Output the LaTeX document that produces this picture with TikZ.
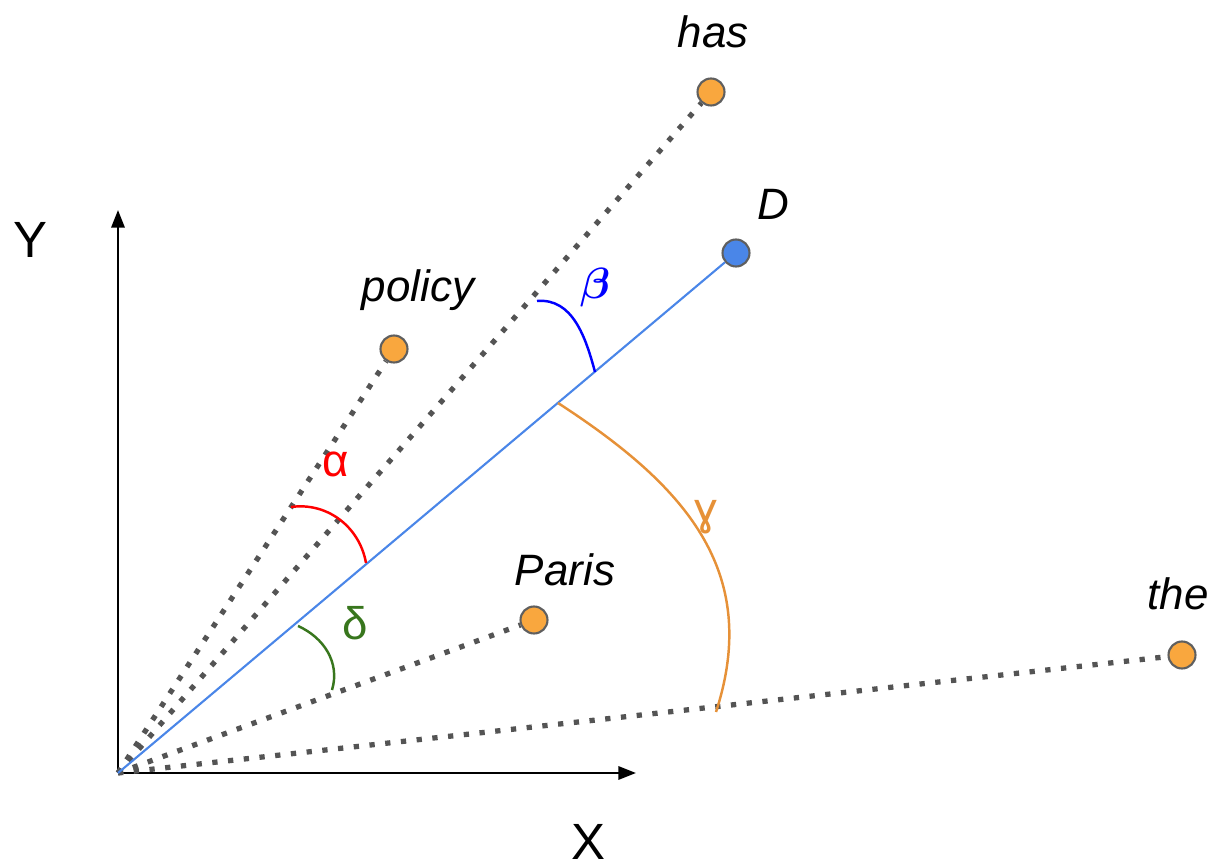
\documentclass[tikz,border=0pt]{standalone}
\usepackage{amsmath, bm}
\usepackage{fontspec}
\setmainfont{Liberation Sans}
\usetikzlibrary{arrows.meta, calc}

\definecolor{dotorange}{HTML}{F9A73E}
\definecolor{dotblue}{HTML}{4A86E8}
\definecolor{rimgray}{HTML}{5F5F5F}
\definecolor{lineblue}{HTML}{4A86E8}
\definecolor{arcorange}{HTML}{E69138}
\definecolor{arcgreen}{HTML}{38761D}

\tikzset{
    worddot/.style={circle, draw=rimgray, line width=1.2pt, fill=dotorange, minimum size=0.54cm, inner sep=0pt},
    docdot/.style={worddot, fill=dotblue},
    wordlabel/.style={font=\fontsize{25}{30}\selectfont\itshape},
    axislabel/.style={font=\fontsize{29}{34}\selectfont, inner sep=0pt},
    greeklabel/.style={font=\fontsize{26}{31}\selectfont},
    simline/.style={draw=black!67, line width=3pt, dash pattern=on 3pt off 6pt},
    anglearc/.style={line width=1.4pt}
}

\begin{document}
\begin{tikzpicture}[x=0.02cm, y=0.02cm]
    \useasboundingbox (0,0) rectangle (1210,866);

    % Axes
    \coordinate (o) at (118,93);
    \coordinate (xend) at (636,93);
    \coordinate (yend) at (118,656);
    \draw[-{Triangle[length=10pt, width=7.5pt]}, line width=1.4pt] (o) -- (xend);
    \draw[-{Triangle[length=10pt, width=7.5pt]}, line width=1.4pt] (o) -- (yend);
    \node[axislabel] (xlab) at (588,24) {X};
    \node[axislabel] (ylab) at (30,626) {Y};

    % Word vectors and the document vector
    \node[worddot] (has) at (711,774) {};
    \node[worddot] (policy) at (394,517) {};
    \node[worddot] (paris) at (534,246) {};
    \node[worddot] (the) at (1182,211) {};
    \node[docdot] (doc) at (736,613) {};

    \node[wordlabel] (haslab) at (713,834) {has};
    \node[wordlabel] (policylab) at (418,576) {policy};
    \node[wordlabel] (parislab) at (565,296) {Paris};
    \node[wordlabel] (thelab) at (1178,272) {the};
    \node[wordlabel] (doclab) at (773,662) {D};

    \draw[simline] (o) -- (has);
    \draw[simline] (o) -- (policy);
    \draw[simline] (o) -- (paris);
    \draw[simline] (o) -- (the);
    \draw[lineblue, line width=1.2pt] (o) -- (doc);

    % Angles between D and the words
    \draw[anglearc, red] (291,359) to[out=8, in=100] (366,303);
    \draw[anglearc, blue] (537,565) to[out=5, in=105] (595,494);
    \draw[anglearc, arcorange] (558,463) to[out=-33, in=72, looseness=1.1] (716,154);
    \draw[anglearc, arcgreen] (298,240) to[out=-24, in=73] (332,176);

    \node[greeklabel, text=red] (alpha) at (336,402) {α};
    \node[font=\fontsize{24}{29}\selectfont, text=blue] (beta) at (595,578) {$\bm{\beta}$};
    \node[greeklabel, text=arcorange] (gamma) at (706,349) {ɣ};
    \node[greeklabel, text=arcgreen] (delta) at (355,243) {δ};
\end{tikzpicture}
\end{document}
